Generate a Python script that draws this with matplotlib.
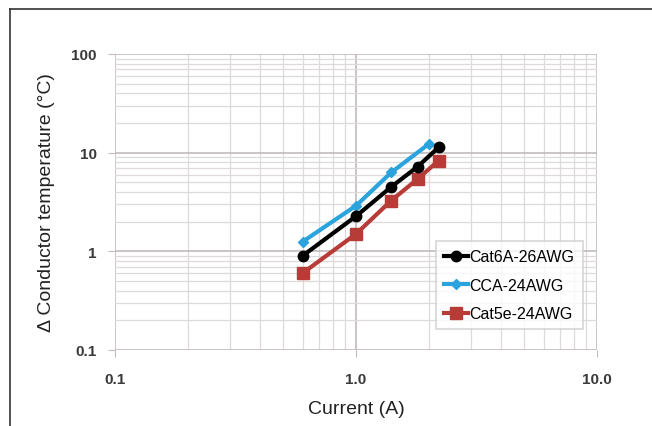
import numpy as np
import matplotlib.pyplot as plt
from matplotlib.lines import Line2D
from matplotlib.ticker import FixedLocator, FixedFormatter, LogLocator, NullFormatter

# data
arus_cat6a = [0.6, 1.0, 1.4, 1.8, 2.2]
suhu_cat6a = [0.9, 2.27, 4.5, 7.2, 11.3]

arus_cca = [0.6, 1.0, 1.4, 2.0]
suhu_cca = [1.25, 2.9, 6.3, 12.2]

arus_cat5e = [0.6, 1.0, 1.4, 1.8, 2.2]
suhu_cat5e = [0.6, 1.5, 3.27, 5.4, 8.3]

x_ticks = [0.1, 1.0, 10.0]
x_labels = ["0.1", "1.0", "10.0"]
y_ticks = [0.1, 1, 10, 100]
y_labels = ["0.1", "1", "10", "100"]

plt.rcParams['font.family'] = ['Liberation Sans', 'DejaVu Sans']

fig = plt.figure(figsize=(6.52, 4.27), dpi=100)
ax = fig.add_axes([0.1764, 0.178, 0.7393, 0.6932])

ax.plot(arus_cat6a, suhu_cat6a, color='black', lw=3, marker='o', ms=7.5,
        label='Cat6A-26AWG', zorder=4)
ax.plot(arus_cca, suhu_cca, color='#2ba3dc', lw=3, marker='D', ms=5,
        label='CCA-24AWG', zorder=3)
ax.plot(arus_cat5e, suhu_cat5e, color='#b73c38', lw=3, marker='s', ms=8,
        label='Cat5e-24AWG', zorder=3)

ax.set_xscale('log')
ax.set_yscale('log')
ax.set_xlim(0.1, 10)
ax.set_ylim(0.1, 100)

ax.xaxis.set_major_locator(FixedLocator(x_ticks))
ax.xaxis.set_major_formatter(FixedFormatter(x_labels))
ax.yaxis.set_major_locator(FixedLocator(y_ticks))
ax.yaxis.set_major_formatter(FixedFormatter(y_labels))
ax.xaxis.set_minor_locator(LogLocator(base=10, subs=np.arange(2, 10)))
ax.yaxis.set_minor_locator(LogLocator(base=10, subs=np.arange(2, 10)))
ax.xaxis.set_minor_formatter(NullFormatter())
ax.yaxis.set_minor_formatter(NullFormatter())

ax.grid(which='major', color='#c2baba', lw=1.2)
ax.grid(which='minor', color='#dedada', lw=0.9)
ax.set_axisbelow(True)
for s in ax.spines.values():
    s.set_visible(False)

ax.tick_params(which='major', length=5, color='#c2baba', labelsize=11,
               labelcolor='#3a3a3a')
ax.tick_params(axis='x', pad=11)
ax.tick_params(axis='y', pad=8)
ax.tick_params(which='minor', length=0)
for lbl in ax.get_xticklabels() + ax.get_yticklabels():
    lbl.set_fontweight('bold')

ax.set_xlabel('Current (A)', fontsize=14, color='#222222', labelpad=10)
ax.set_ylabel('Δ Conductor temperature (°C)', fontsize=14, color='#222222', labelpad=12)

leg = ax.legend(loc='lower right', bbox_to_anchor=(0.97, 0.07), fontsize=11.5,
                frameon=True, fancybox=False, edgecolor='#cccccc',
                handlelength=1.5, handletextpad=0.1, labelspacing=0.85,
                borderpad=0.5, borderaxespad=0.0)
leg.get_frame().set_linewidth(1.2)

# garis bingkai gambar
fig.add_artist(Line2D([10 / 652, 10 / 652], [0, 1 - 10 / 427], color='#333333', lw=1.2))
fig.add_artist(Line2D([10 / 652, 1], [1 - 10 / 427, 1 - 10 / 427], color='#333333', lw=1.2))

fig.savefig('out.png', dpi=100)
